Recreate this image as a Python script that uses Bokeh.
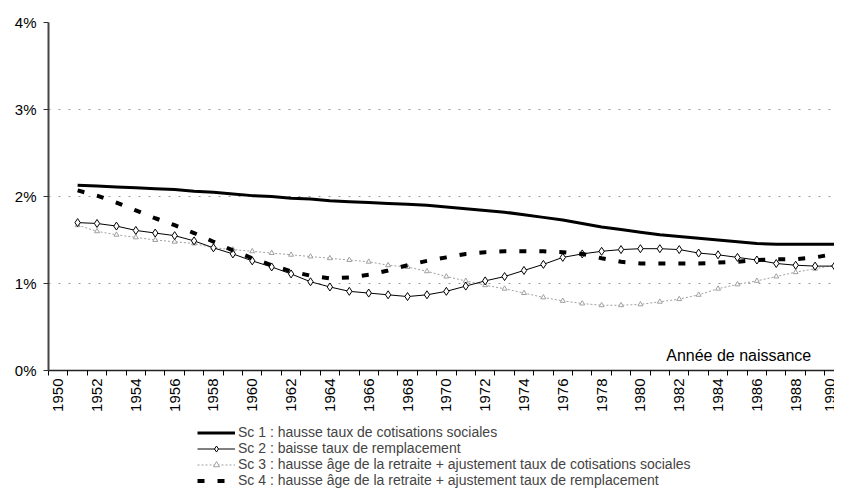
import math
from bokeh.plotting import figure
from bokeh.layouts import column
from bokeh.models import Range1d, FixedTicker, Legend, LegendItem, Label, PrintfTickFormatter
from bokeh.embed import file_html
from bokeh.resources import INLINE

# ---------------- data ----------------
years = list(range(1951, 1991))

sc1 = [2.13, 2.12, 2.11, 2.10, 2.09, 2.08, 2.06, 2.05, 2.03, 2.01,
       2.00, 1.98, 1.97, 1.95, 1.94, 1.93, 1.92, 1.91, 1.90, 1.88,
       1.86, 1.84, 1.82, 1.79, 1.76, 1.73, 1.69, 1.65, 1.62, 1.59,
       1.56, 1.54, 1.52, 1.50, 1.48, 1.46, 1.45, 1.45, 1.45, 1.45]

sc2 = [1.70, 1.69, 1.66, 1.61, 1.58, 1.55, 1.49, 1.41, 1.34, 1.26,
       1.19, 1.11, 1.02, 0.96, 0.91, 0.89, 0.87, 0.85, 0.87, 0.91,
       0.97, 1.03, 1.08, 1.15, 1.22, 1.30, 1.34, 1.37, 1.39, 1.40,
       1.40, 1.39, 1.35, 1.33, 1.30, 1.27, 1.23, 1.21, 1.20, 1.20]

sc3 = [1.67, 1.60, 1.56, 1.53, 1.50, 1.48, 1.46, 1.41, 1.39, 1.37,
       1.35, 1.33, 1.31, 1.29, 1.27, 1.25, 1.21, 1.19, 1.14, 1.08,
       1.03, 0.98, 0.94, 0.89, 0.84, 0.80, 0.77, 0.75, 0.75, 0.76,
       0.79, 0.82, 0.87, 0.94, 0.99, 1.03, 1.08, 1.13, 1.17, 1.21]

sc4 = [2.07, 2.01, 1.93, 1.84, 1.75, 1.67, 1.58, 1.48, 1.38, 1.29,
       1.21, 1.14, 1.09, 1.06, 1.07, 1.10, 1.15, 1.21, 1.26, 1.30,
       1.34, 1.36, 1.37, 1.37, 1.37, 1.36, 1.34, 1.29, 1.25, 1.23,
       1.23, 1.23, 1.23, 1.24, 1.25, 1.27, 1.28, 1.28, 1.30, 1.34]

tick_years = list(range(1950, 1991, 2))
category_years = list(range(1950, 1992))
y_ticks = [0, 1, 2, 3, 4]
grid_ticks = [1, 2, 3, 4]

legend_labels = [
    "Sc 1 : hausse taux de cotisations sociales",
    "Sc 2 : baisse taux de remplacement",
    "Sc 3 : hausse âge de la retraite + ajustement taux de cotisations sociales",
    "Sc 4 : hausse âge de la retraite + ajustement taux de remplacement",
]
axis_title = "Année de naissance"

FONT = "Liberation Sans"

# series styles (shared by the chart and its legend)
S1 = dict(line_color="black", line_width=3)
S2L = dict(line_color="black", line_width=1)
S2M = dict(marker="diamond", size=8, line_color="black", fill_color="white", line_width=1)
S3L = dict(line_color="#a0a0a0", line_width=1, line_dash="2 2")
S3M = dict(marker="triangle", size=5, line_color="#a0a0a0", fill_color="white", line_width=1)
S4 = dict(line_color="black", line_width=4, line_dash="7 13")

# ---------------- main chart ----------------
p = figure(frame_width=786, frame_height=348,
           x_range=Range1d(1949.5, 1990.0), y_range=Range1d(0, 4),
           output_backend="svg", toolbar_location=None,
           min_border_left=48, min_border_top=22, min_border_right=0,
           min_border_bottom=42)
p.outline_line_color = None
p.background_fill_color = "white"
p.border_fill_color = "white"

p.xgrid.visible = False
p.ygrid.ticker = FixedTicker(ticks=grid_ticks)
p.ygrid.grid_line_color = "#9a9a9a"
p.ygrid.grid_line_dash = "2 8"
p.ygrid.grid_line_width = 1

xa = p.xaxis[0]
xa.ticker = FixedTicker(ticks=tick_years, minor_ticks=[y - 0.5 for y in category_years])
xa.major_tick_line_color = None
xa.major_tick_out = 5
xa.major_tick_in = 0
xa.minor_tick_out = 5
xa.minor_tick_in = 0
xa.minor_tick_line_color = "black"
xa.major_label_orientation = math.pi / 2
xa.major_label_standoff = 3
xa.major_label_text_font = FONT
xa.major_label_text_font_size = "15px"
xa.major_label_text_color = "black"
xa.axis_line_color = "#222222"
xa.axis_line_width = 1.5

ya = p.yaxis[0]
ya.ticker = FixedTicker(ticks=y_ticks, minor_ticks=[])
ya.formatter = PrintfTickFormatter(format="%d%%")
ya.major_tick_out = 5
ya.major_tick_in = 0
ya.major_tick_line_color = "#333333"
ya.minor_tick_line_color = None
ya.major_label_standoff = 7
ya.major_label_text_font = FONT
ya.major_label_text_font_size = "15px"
ya.major_label_text_color = "black"
ya.axis_line_color = "#444444"
ya.axis_line_width = 2

p.line(years, sc3, **S3L)
p.scatter(years, sc3, **S3M)
p.line(years, sc2, **S2L)
p.scatter(years, sc2, **S2M)
p.line(years, sc4, **S4)
p.line(years, sc1, **S1)

p.add_layout(Label(x=1988.8, y=0.17, text=axis_title, text_align="right",
                   text_baseline="middle", text_font=FONT,
                   text_font_size="16px", text_color="black"))

# ---------------- legend strip (same left border as the chart) ----------------
q = figure(width=834, height=76, x_range=Range1d(0, 1), y_range=Range1d(0, 1),
           x_axis_type=None, y_axis_type=None,
           output_backend="svg", toolbar_location=None,
           min_border_left=48, min_border_top=0, min_border_right=0,
           min_border_bottom=0)
q.outline_line_color = None
q.background_fill_color = "white"
q.border_fill_color = "white"

# legend keys: the same series, lying outside this strip's ranges
g1 = q.line(years, sc1, **S1)
g2l = q.line(years, sc2, **S2L)
g2m = q.scatter(years, sc2, **S2M)
g3l = q.line(years, sc3, **S3L)
g3m = q.scatter(years, sc3, **S3M)
g4 = q.line(years, sc4, **S4)

legend = Legend(items=[
    LegendItem(label=legend_labels[0], renderers=[g1]),
    LegendItem(label=legend_labels[1], renderers=[g2l, g2m]),
    LegendItem(label=legend_labels[2], renderers=[g3l, g3m]),
    LegendItem(label=legend_labels[3], renderers=[g4]),
], location=(149, 2), orientation="vertical", margin=0, padding=0,
    spacing=0, label_height=15, glyph_height=15, glyph_width=38,
    label_standoff=3, label_text_font=FONT, label_text_font_size="14px",
    label_text_line_height=1.0,
    border_line_color=None, background_fill_alpha=0)
q.add_layout(legend)

layout = column(p, q, spacing=0)
open("out.html", "w").write(file_html(layout, INLINE))
